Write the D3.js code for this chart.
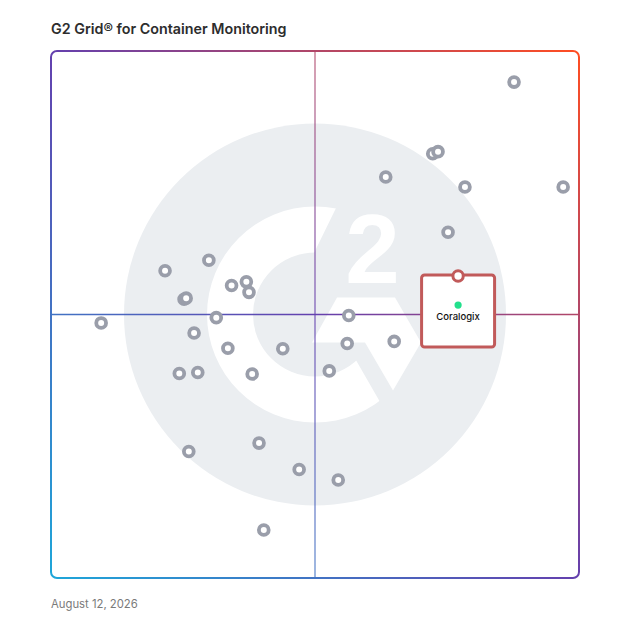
<!DOCTYPE html>
<html>
<head>
<meta charset="utf-8">
<script src="https://cdn.jsdelivr.net/npm/d3@7"></script>
<style>
  html, body { margin: 0; padding: 0; background: #fff; }
  svg { display: block; }
</style>
</head>
<body>
<div class="chart"></div>
<script>
const width = 628;
const height = 628;

// products on the grid (x = satisfaction, y = market presence, 0..100)
const satisfaction = [72.3, 73.3, 63.4, 78.4, 75.2, 29.9, 21.6, 34.2, 37.0, 37.5, 25.2, 25.6, 31.3, 56.4, 27.1,
    33.5, 43.9, 56.1, 65.0, 24.3, 27.8, 38.1, 52.7, 39.4, 26.1, 47.0, 54.4, 87.7, 97.0, 9.5, 40.3];
const marketPresence = [80.5, 80.9, 76.1, 74.2, 65.6, 60.3, 58.3, 55.5, 56.2, 54.2, 52.9, 53.1, 49.4, 49.8, 46.5,
    43.6, 43.5, 44.5, 44.9, 38.8, 39.0, 38.7, 39.3, 25.6, 24.0, 20.6, 18.6, 94.1, 74.2, 48.4, 9.1];
const highlightName = ['Coralogix'];
const highlightX = [77.1];
const highlightY = [57.3];

const title = 'G2 Grid® for Container Monitoring';
const dateLabel = 'August 12, 2026';

const points = satisfaction.map((d, i) => ({ x: d, y: marketPresence[i] }));
const highlight = highlightName.map((n, i) => ({ name: n, x: highlightX[i], y: highlightY[i] }));

const x0 = 51, x1 = 579, y0 = 51, y1 = 578;
const xScale = d3.scaleLinear().domain([0, 100]).range([x0, x1]);
const yScale = d3.scaleLinear().domain([0, 100]).range([y1, y0]);

const svg = d3.select('.chart').append('svg')
    .attr('width', width)
    .attr('height', height)
    .attr('viewBox', '0 0 628 628');

const defs = svg.append('defs');
const grad = defs.append('linearGradient')
    .attr('id', 'frameGrad')
    .attr('gradientUnits', 'userSpaceOnUse')
    .attr('x1', x0).attr('y1', y1)
    .attr('x2', x1).attr('y2', y0);
grad.append('stop').attr('offset', 0).attr('stop-color', '#1ea6d9');
grad.append('stop').attr('offset', 0.5).attr('stop-color', '#6440ae');
grad.append('stop').attr('offset', 1).attr('stop-color', '#ff4d22');

/* title */
svg.append('text')
    .attr('x', x0)
    .attr('y', 34)
    .attr('font-family', 'Inter, sans-serif')
    .attr('font-weight', 600)
    .attr('font-size', 14.3)
    .attr('fill', '#2d2d2d')
    .text(title);

/* background G2 mark */
const cx = xScale(50), cy = yScale(50);
const logo = svg.append('g').attr('transform', `translate(${cx}, ${cy})`);
logo.append('circle').attr('r', 191).attr('fill', '#ebeef1');

// cut wedge on the right of the ring
defs.append('clipPath').attr('id', 'ringClip')
    .append('polygon')
    .attr('points', [[-10, -43], [78, -223], [-250, -223], [-250, 250], [105, 157]].map(p => p.join(',')).join(' '));
logo.append('path')
    .attr('clip-path', 'url(#ringClip)')
    .attr('fill', '#fff')
    .attr('d', d3.arc().innerRadius(62).outerRadius(108).startAngle(0).endAngle(2 * Math.PI)());
logo.append('polygon')
    .attr('fill', '#fff')
    .attr('points', [[22, -17], [80, -17], [106, 28], [78, 76], [50, 28], [-3, 28]].map(p => p.join(',')).join(' '));
logo.append('text')
    .attr('x', 57.5)
    .attr('y', -32)
    .attr('text-anchor', 'middle')
    .attr('font-family', '"Liberation Sans", Arial, sans-serif')
    .attr('font-weight', 700)
    .attr('font-size', 98)
    .attr('fill', '#fff')
    .text('2');

/* quadrant lines */
svg.append('line')
    .attr('x1', xScale(50)).attr('x2', xScale(50))
    .attr('y1', y0).attr('y2', y1)
    .attr('stroke', 'url(#frameGrad)')
    .attr('stroke-opacity', 0.65)
    .attr('stroke-width', 1.6);
svg.append('line')
    .attr('x1', x0).attr('x2', x1)
    .attr('y1', yScale(50)).attr('y2', yScale(50))
    .attr('stroke', 'url(#frameGrad)')
    .attr('stroke-opacity', 1)
    .attr('stroke-width', 1.6);

/* frame */
svg.append('rect')
    .attr('x', x0).attr('y', y0)
    .attr('width', x1 - x0).attr('height', y1 - y0)
    .attr('rx', 6)
    .attr('fill', 'none')
    .attr('stroke', 'url(#frameGrad)')
    .attr('stroke-width', 2);

/* products */
svg.append('g').selectAll('circle')
    .data(points)
    .enter()
    .append('circle')
    .attr('cx', d => xScale(d.x))
    .attr('cy', d => yScale(d.y))
    .attr('r', 4.9)
    .attr('fill', '#fff')
    .attr('stroke', '#9a9eaa')
    .attr('stroke-width', 3.8);

/* highlighted product callout */
const hl = svg.append('g').selectAll('g')
    .data(highlight)
    .enter()
    .append('g')
    .attr('transform', d => `translate(${xScale(d.x)}, ${yScale(d.y)})`);
hl.append('rect')
    .attr('x', -36.5).attr('y', -1)
    .attr('width', 73).attr('height', 72)
    .attr('rx', 3)
    .attr('fill', '#fff')
    .attr('stroke', '#c15a5a')
    .attr('stroke-width', 3);
hl.append('circle')
    .attr('r', 5.2)
    .attr('fill', '#fff')
    .attr('stroke', '#c15a5a')
    .attr('stroke-width', 3);
hl.append('circle')
    .attr('cy', 29)
    .attr('r', 3.6)
    .attr('fill', '#22e08c');
hl.append('text')
    .attr('y', 43.5)
    .attr('text-anchor', 'middle')
    .attr('font-family', 'Inter, sans-serif')
    .attr('font-weight', 500)
    .attr('font-size', 9.5)
    .attr('fill', '#111')
    .text(d => d.name);

/* date */
svg.append('text')
    .attr('x', x0)
    .attr('y', 608)
    .attr('font-family', 'Inter, sans-serif')
    .attr('font-size', 11.3)
    .attr('fill', '#7a7a7a')
    .text(dateLabel);
</script>
</body>
</html>
